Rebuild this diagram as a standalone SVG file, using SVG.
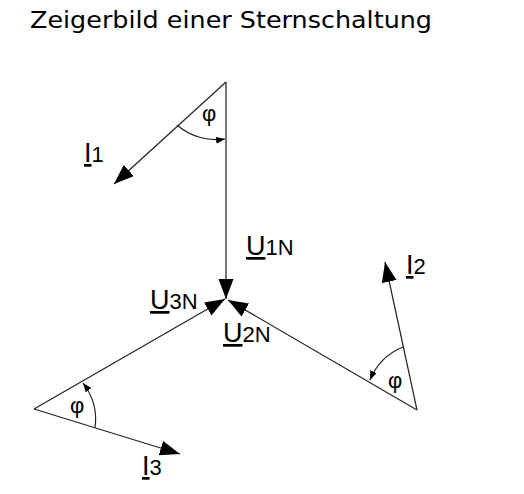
<svg xmlns="http://www.w3.org/2000/svg" width="524" height="494" viewBox="0 0 524 494">
<style>
.ln{stroke:#222;stroke-width:1.2;fill:none}
.vl{stroke:#777;stroke-width:2;fill:none}
.arc{stroke:#222;stroke-width:1.2;fill:none}
.lbl{font-family:"Liberation Sans",Arial,sans-serif;fill:#000}
.big{font-size:27px}
.sub{font-size:22px}
.phi{font-family:"Liberation Sans",Arial,sans-serif;font-size:22px;fill:#000}
.title{font-family:"DejaVu Sans","Liberation Sans",sans-serif;font-size:23px;fill:#000}
</style>
<defs>
<marker id="ah" markerUnits="userSpaceOnUse" markerWidth="22" markerHeight="16" refX="20" refY="7.5" orient="auto"><path d="M0,0 L20,7.5 L0,15 z" fill="#000"/></marker>
<marker id="sa" markerUnits="userSpaceOnUse" markerWidth="10" markerHeight="8" refX="9" refY="3.5" orient="auto"><path d="M0,0 L9,3.5 L0,7 z" fill="#000"/></marker>
</defs>
<text class="title" x="30" y="28" textLength="402" lengthAdjust="spacingAndGlyphs">Zeigerbild einer Sternschaltung</text>
<g id="connectors">
<line id="u1n" class="vl" x1="226" y1="82" x2="226" y2="299" marker-end="url(#ah)"/>
<line id="i1" class="ln" x1="226" y1="82" x2="114" y2="184" marker-end="url(#ah)"/>
<line id="u3n" class="ln" x1="34" y1="409" x2="225" y2="299" marker-end="url(#ah)"/>
<line id="i3" class="ln" x1="34" y1="409" x2="180" y2="454" marker-end="url(#ah)"/>
<line id="u2n" class="ln" x1="417" y1="410" x2="228" y2="300" marker-end="url(#ah)"/>
<line id="i2" class="ln" x1="417" y1="410" x2="385" y2="262" marker-end="url(#ah)"/>
<path id="phi1arc" class="arc" d="M177,125 A60,60 0 0 0 225,139" marker-end="url(#sa)"/>
<path id="phi2arc" class="arc" d="M403,347 A60,60 0 0 0 370,380" marker-end="url(#sa)"/>
<path id="phi3arc" class="arc" d="M95,428 A60,60 0 0 0 83,383" marker-end="url(#sa)"/>
</g>
<g id="label-i1"><text class="lbl" x="84" y="162"><tspan class="big" text-decoration="underline">I</tspan><tspan class="sub">1</tspan></text></g>
<g id="label-u1n"><text class="lbl" x="246" y="255"><tspan class="big" text-decoration="underline">U</tspan><tspan class="sub">1N</tspan></text></g>
<g id="label-u3n"><text class="lbl" x="150" y="309"><tspan class="big" text-decoration="underline">U</tspan><tspan class="sub">3N</tspan></text></g>
<g id="label-u2n"><text class="lbl" x="223" y="342"><tspan class="big" text-decoration="underline">U</tspan><tspan class="sub">2N</tspan></text></g>
<g id="label-i2"><text class="lbl" x="406" y="274"><tspan class="big" text-decoration="underline">I</tspan><tspan class="sub">2</tspan></text></g>
<g id="label-i3"><text class="lbl" x="142" y="475"><tspan class="big" text-decoration="underline">I</tspan><tspan class="sub">3</tspan></text></g>
<g id="phi1"><text class="phi" x="202" y="121">φ</text></g>
<g id="phi2"><text class="phi" x="388" y="388">φ</text></g>
<g id="phi3"><text class="phi" x="70" y="413">φ</text></g>
</svg>
